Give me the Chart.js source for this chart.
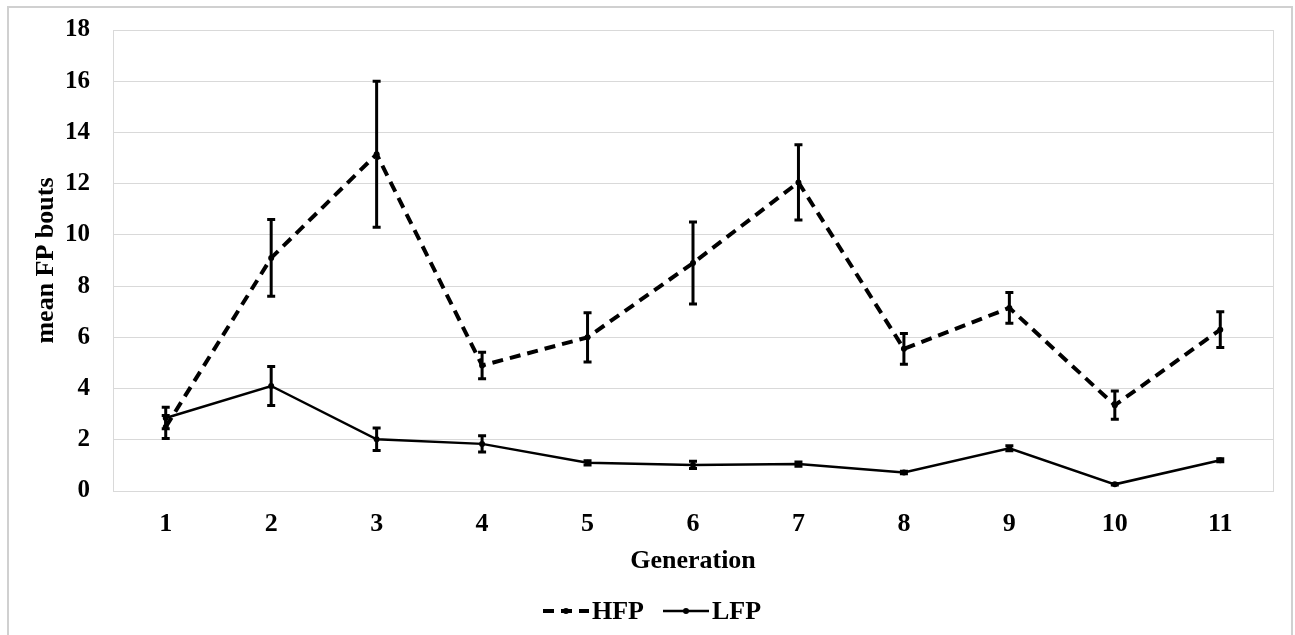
<!DOCTYPE html>
<html>
<head>
<meta charset="utf-8">
<script src="https://cdn.jsdelivr.net/npm/chart.js@4"></script>
<style>
  html, body { margin: 0; padding: 0; background: #fff; }
  #wrap { width: 1295px; height: 635px; position: relative; }
</style>
</head>
<body>
<div id="wrap"><canvas id="myChart" width="1295" height="635"></canvas></div>
<script>
// chart data
const generations = ['1', '2', '3', '4', '5', '6', '7', '8', '9', '10', '11'];
const hfpMean = [2.5, 9.1, 13.15, 4.9, 6.0, 8.9, 12.05, 5.55, 7.15, 3.35, 6.3];
const hfpErr  = [0.45, 1.5, 2.85, 0.52, 0.96, 1.6, 1.47, 0.6, 0.6, 0.55, 0.7];
const lfpMean = [2.85, 4.1, 2.02, 1.84, 1.1, 1.02, 1.05, 0.72, 1.67, 0.26, 1.2];
const lfpErr  = [0.42, 0.76, 0.44, 0.32, 0.08, 0.14, 0.08, 0.05, 0.1, 0.03, 0.06];
const yTicks  = [0, 2, 4, 6, 8, 10, 12, 14, 16, 18];

const FONT = 'Liberation Serif';
const gridColor = '#d9d9d9';

// error bars drawn with the chart's own scales
const errorBars = {
  id: 'errorBars',
  afterDatasetsDraw(chart) {
    const ctx = chart.ctx;
    const yScale = chart.scales.y;
    chart.data.datasets.forEach((ds, i) => {
      const meta = chart.getDatasetMeta(i);
      ctx.save();
      ctx.strokeStyle = '#000';
      ctx.lineWidth = 3;
      ctx.setLineDash([]);
      meta.data.forEach((pt, j) => {
        const v = ds.data[j];
        const e = ds.errors[j];
        const top = yScale.getPixelForValue(v + e);
        const bot = yScale.getPixelForValue(v - e);
        ctx.beginPath();
        ctx.moveTo(pt.x, top); ctx.lineTo(pt.x, bot);
        ctx.moveTo(pt.x - 4, top); ctx.lineTo(pt.x + 4, top);
        ctx.moveTo(pt.x - 4, bot); ctx.lineTo(pt.x + 4, bot);
        ctx.stroke();
      });
      ctx.restore();
    });
  }
};

// frame around the plot area and the whole figure, plus the legend row
const frameAndLegend = {
  id: 'frameAndLegend',
  afterDraw(chart) {
    const ctx = chart.ctx;
    const a = chart.chartArea;
    ctx.save();
    ctx.strokeStyle = gridColor;
    ctx.lineWidth = 1;
    ctx.strokeRect(a.left + 0.5, a.top + 0.5, a.right - a.left, a.bottom - a.top);
    ctx.strokeStyle = '#d0d0d0';
    ctx.lineWidth = 2;
    ctx.strokeRect(8, 7, 1284, 640);

    // legend
    const y = 611;
    ctx.strokeStyle = '#000';
    ctx.fillStyle = '#000';
    ctx.font = 'bold 26px "' + FONT + '"';
    ctx.textBaseline = 'middle';
    chart.data.datasets.forEach((ds, i) => {
      const x0 = i === 0 ? 543 : 663;
      ctx.lineWidth = ds.borderWidth;
      ctx.setLineDash(ds.borderDash || []);
      ctx.beginPath();
      ctx.moveTo(x0, y); ctx.lineTo(x0 + 46, y);
      ctx.stroke();
      ctx.setLineDash([]);
      ctx.beginPath();
      ctx.arc(x0 + 23, y, 3, 0, Math.PI * 2);
      ctx.fill();
      ctx.fillText(ds.label, x0 + 49, y + 1);
    });
    ctx.restore();
  }
};

const ctx = document.getElementById('myChart').getContext('2d');
new Chart(ctx, {
  type: 'line',
  data: {
    labels: generations,
    datasets: [
      {
        label: 'HFP',
        data: hfpMean,
        errors: hfpErr,
        borderColor: '#000',
        backgroundColor: '#000',
        borderWidth: 4,
        borderDash: [11, 7],
        pointRadius: 3,
        pointBorderWidth: 0,
        tension: 0
      },
      {
        label: 'LFP',
        data: lfpMean,
        errors: lfpErr,
        borderColor: '#000',
        backgroundColor: '#000',
        borderWidth: 2.5,
        pointRadius: 3,
        pointBorderWidth: 0,
        tension: 0
      }
    ]
  },
  options: {
    responsive: false,
    animation: false,
    layout: { padding: { left: 20, top: 30, right: 22, bottom: 54 } },
    plugins: {
      legend: { display: false },
      tooltip: { enabled: false }
    },
    scales: {
      x: {
        offset: true,
        grid: { display: false, drawTicks: false },
        border: { display: false },
        afterFit(scale) { scale.height = 90; },
        ticks: {
          color: '#000',
          padding: 18,
          font: { family: FONT, size: 26, weight: 'bold' }
        },
        title: {
          display: true,
          text: 'Generation',
          color: '#000',
          padding: { top: 0, bottom: 4 },
          font: { family: FONT, size: 26, weight: 'bold' }
        }
      },
      y: {
        min: 0,
        max: 18,
        afterBuildTicks(scale) { scale.ticks = yTicks.map(v => ({ value: v })); },
        afterFit(scale) {
          scale.width = 93;
          scale.paddingTop = 0;
          scale.paddingBottom = 0;
        },
        grid: { color: gridColor, lineWidth: 1, drawTicks: false },
        border: { display: false },
        ticks: {
          color: '#000',
          padding: 23,
          font: { family: FONT, size: 25, weight: 'bold' }
        },
        title: {
          display: true,
          text: 'mean FP bouts',
          color: '#000',
          padding: { top: 11, bottom: 0 },
          font: { family: FONT, size: 26, weight: 'bold' }
        }
      }
    }
  },
  plugins: [errorBars, frameAndLegend]
});
</script>
</body>
</html>
